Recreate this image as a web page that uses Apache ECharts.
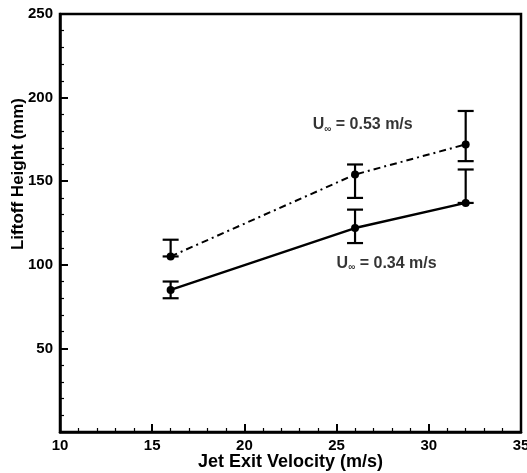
<!DOCTYPE html>
<html><head><meta charset="utf-8">
<script src="https://cdn.jsdelivr.net/npm/echarts@6/dist/echarts.min.js"></script>
<style>html,body{margin:0;padding:0;background:#fff}#c{width:527px;height:473px}</style>
</head><body><div id="c"></div>
<script>
var velocity = [16, 26, 32];
var heightLow = [85, 122, 137];        // U = 0.34 m/s
var errLowMin = [80, 113, 137];
var errLowMax = [90, 133, 157];
var heightHigh = [105, 154, 172];      // U = 0.53 m/s
var errHighMin = [105, 140, 162];
var errHighMax = [115, 160, 192];
var xTicks = [10, 15, 20, 25, 30, 35];
var yTicks = [50, 100, 150, 200, 250];
var labelTexts = ['0.53 m/s', '0.34 m/s'];
var labelAnchors = [[23.7, 184], [25.0, 101]];

var font = 'Liberation Sans, Arial, sans-serif';
function pts(xs, ys){ return xs.map(function(x,i){return [x, ys[i]];}); }
function errData(xs, lo, hi){ return xs.map(function(x,i){return [x, lo[i], hi[i]];}); }
function errSeries(data){
  return {
    type:'custom', data:data, z:3, silent:true,
    renderItem:function(params, api){
      var x = api.value(0), lo = api.coord([x, api.value(1)]), hi = api.coord([x, api.value(2)]);
      var w = 8;
      var st = {stroke:'#000', lineWidth:2.2};
      return {type:'group', children:[
        {type:'line', shape:{x1:lo[0],y1:lo[1],x2:hi[0],y2:hi[1]}, style:st},
        {type:'line', shape:{x1:lo[0]-w,y1:lo[1],x2:lo[0]+w,y2:lo[1]}, style:st},
        {type:'line', shape:{x1:hi[0]-w,y1:hi[1],x2:hi[0]+w,y2:hi[1]}, style:st}
      ]};
    }
  };
}
var chart = echarts.init(document.getElementById('c'));
chart.setOption({
  animation:false,
  backgroundColor:'#fff',
  grid:{left:60, top:14, right:6, bottom:41, show:true, borderColor:'#000', borderWidth:2.5,
        containLabel:false, outerBoundsMode:'none'},
  xAxis:{
    type:'value', min:10, max:35, interval:5,
    name:'Jet Exit Velocity (m/s)', nameLocation:'middle', nameGap:21, nameMoveOverlap:false,
    nameTextStyle:{fontFamily:font, fontWeight:'bold', fontSize:18, color:'#000'},
    axisLine:{lineStyle:{color:'#000', width:2.5}},
    axisTick:{inside:true, length:8, lineStyle:{color:'#000', width:2}},
    minorTick:{show:true, splitNumber:5, length:4, lineStyle:{color:'#000', width:1.2}},
    splitLine:{show:false},
    axisLabel:{fontFamily:font, fontWeight:'bold', fontSize:15, color:'#000', margin:6,
      formatter:function(v){ return xTicks.indexOf(v)>=0 ? String(v) : ''; }}
  },
  yAxis:{
    type:'value', min:0, max:250, interval:50,
    name:'Liftoff Height (mm)', nameLocation:'middle', nameGap:33, nameMoveOverlap:false,
    nameTextStyle:{fontFamily:font, fontWeight:'bold', fontSize:17, color:'#000', padding:[0,0,0,98]},
    axisLine:{show:true, lineStyle:{color:'#000', width:2.5}},
    axisTick:{show:true, inside:true, length:8, lineStyle:{color:'#000', width:2}},
    minorTick:{show:true, splitNumber:5, length:4, lineStyle:{color:'#000', width:1.2}},
    splitLine:{show:false},
    axisLabel:{fontFamily:font, fontWeight:'bold', fontSize:15, color:'#000', margin:7,
      formatter:function(v){ return yTicks.indexOf(v)>=0 ? String(v) : ''; }}
  },
  series:[
    {type:'line', data:pts(velocity, heightLow), symbol:'circle', symbolSize:8,
     itemStyle:{color:'#000'}, lineStyle:{color:'#000', width:2.4}, z:4},
    {type:'line', data:pts(velocity, heightHigh), symbol:'circle', symbolSize:8,
     itemStyle:{color:'#000'}, lineStyle:{color:'#000', width:2, type:[7,4,2,4]}, z:4},
    errSeries(errData(velocity, errLowMin, errLowMax)),
    errSeries(errData(velocity, errHighMin, errHighMax)),
    {type:'scatter', symbolSize:0, silent:true, z:5,
     data:labelAnchors.map(function(p,i){return {value:p, name:labelTexts[i]};}),
     label:{show:true, position:'right', distance:0,
       formatter:function(p){ return '{u|U}{s|\u221e}{u| = ' + p.name + '}'; },
       rich:{u:{fontFamily:font, fontSize:16, fontWeight:'bold', color:'#000'},
             s:{fontFamily:font, fontSize:10, fontWeight:'bold', color:'#000', padding:[9,0,0,0]}}}}
  ]
});
</script></body></html>
